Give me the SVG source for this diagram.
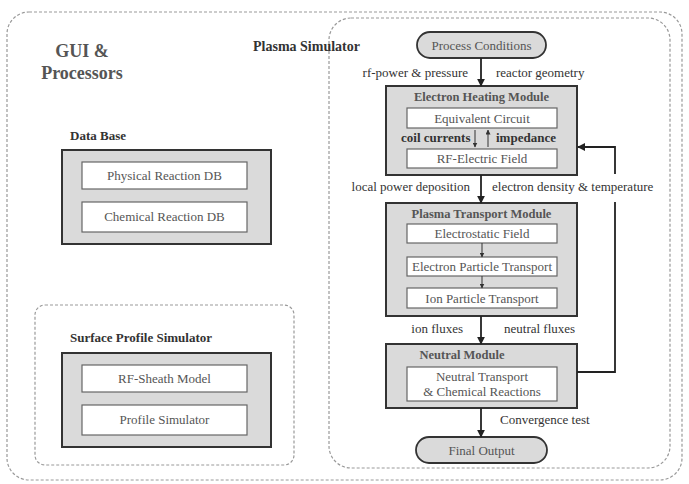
<svg xmlns="http://www.w3.org/2000/svg" width="689" height="484" viewBox="0 0 689 484">
<defs>
<style>
.dash{fill:none;stroke:#999;stroke-width:1.2;stroke-dasharray:3 2}
.outer{fill:#dadada;stroke:#333;stroke-width:2}
.inner{fill:#fff;stroke:#666;stroke-width:1.2}
.pill{fill:#dadada;stroke:#333;stroke-width:1.8}
text{font-family:"Liberation Serif","Times New Roman",Times,serif}
.t{fill:#555;font-size:13px;text-anchor:middle}
.lbl{fill:#333;font-size:13px}
.h{fill:#333;font-weight:bold}
.mh{fill:#555;font-weight:bold;font-size:12.5px;text-anchor:middle}
.c{fill:none;stroke:#222;stroke-width:1.8}
.cs{fill:none;stroke:#333;stroke-width:1}
</style>
<marker id="ah" viewBox="0 0 10 10" refX="9" refY="5" markerWidth="4.5" markerHeight="4.5" orient="auto" markerUnits="strokeWidth"><path d="M0,0 L10,5 L0,10 z" fill="#222"/></marker>
<marker id="as" viewBox="0 0 10 10" refX="9" refY="5" markerWidth="5" markerHeight="5" orient="auto" markerUnits="strokeWidth"><path d="M0,0 L10,5 L0,10 z" fill="#333"/></marker>
</defs>
<rect width="689" height="484" fill="#fff"/>

<g id="gui">
<rect class="dash" x="7" y="12" width="675" height="468" rx="22"/>
<text class="h" x="82" y="57" font-size="18" text-anchor="middle" style="fill:#555">GUI &amp;</text>
<text class="h" x="82" y="79" font-size="18" text-anchor="middle" style="fill:#555">Processors</text>
</g>

<g id="database">
<text class="h" x="70" y="140" font-size="13">Data Base</text>
<rect class="outer" x="62" y="150" width="209" height="94"/>
</g>
<g id="physical-db"><rect class="inner" x="82" y="162" width="165" height="27"/><text class="t" x="164.5" y="180">Physical Reaction DB</text></g>
<g id="chemical-db"><rect class="inner" x="82" y="202" width="165" height="30"/><text class="t" x="164.5" y="221">Chemical Reaction DB</text></g>

<g id="surface">
<rect class="dash" x="35" y="305" width="259" height="160" rx="10"/>
<text class="h" x="70" y="342" font-size="13">Surface Profile Simulator</text>
<rect class="outer" x="62" y="353" width="209" height="94"/>
</g>
<g id="rf-sheath"><rect class="inner" x="82" y="365" width="165" height="27"/><text class="t" x="164.5" y="383">RF-Sheath Model</text></g>
<g id="profile-sim"><rect class="inner" x="82" y="405" width="165" height="30"/><text class="t" x="164.5" y="424">Profile Simulator</text></g>

<g id="plasma">
<rect class="dash" x="329" y="18" width="341" height="450" rx="22"/>
<text class="h" x="253" y="51" font-size="14">Plasma Simulator</text>
</g>

<g id="process"><rect class="pill" x="417" y="32" width="129" height="26" rx="13"/><text class="t" x="481.5" y="49.5">Process Conditions</text></g>

<g id="ehm">
<rect class="outer" x="386" y="86" width="191" height="89"/>
<text class="mh" x="481.5" y="101">Electron Heating Module</text>
</g>
<g id="equiv"><rect class="inner" x="407" y="108" width="150" height="20"/><text class="t" x="482" y="122.5">Equivalent Circuit</text></g>
<g id="rfef"><rect class="inner" x="407" y="149" width="150" height="19"/><text class="t" x="482" y="163">RF-Electric Field</text></g>

<g id="ptm">
<rect class="outer" x="386" y="203" width="191" height="113"/>
<text class="mh" x="481.5" y="218">Plasma Transport Module</text>
</g>
<g id="esf"><rect class="inner" x="407" y="224" width="150" height="19"/><text class="t" x="482" y="238">Electrostatic Field</text></g>
<g id="ept"><rect class="inner" x="407" y="257" width="150" height="19"/><text class="t" x="482" y="271">Electron Particle Transport</text></g>
<g id="ipt"><rect class="inner" x="407" y="288" width="150" height="20"/><text class="t" x="482" y="302.5">Ion Particle Transport</text></g>

<g id="nm">
<rect class="outer" x="386" y="344" width="191" height="64"/>
<text class="mh" x="462" y="359">Neutral Module</text>
</g>
<g id="ntcr"><rect class="inner" x="407" y="367" width="150" height="34"/><text class="t" x="482" y="381">Neutral  Transport</text><text class="t" x="482" y="396">&amp; Chemical Reactions</text></g>

<g id="final"><rect class="pill" x="416" y="437" width="131" height="26" rx="13"/><text class="t" x="481.5" y="454.5">Final Output</text></g>

<g id="connectors">
<line class="c" x1="481" y1="58" x2="481" y2="86" marker-end="url(#ah)"/>
<line class="cs" x1="475" y1="130" x2="475" y2="147" marker-end="url(#as)"/>
<line class="cs" x1="488" y1="147" x2="488" y2="130" marker-end="url(#as)"/>
<line class="c" x1="481" y1="175" x2="481" y2="203" marker-end="url(#ah)"/>
<line class="cs" x1="482" y1="243" x2="482" y2="257" marker-end="url(#as)"/>
<line class="cs" x1="482" y1="276" x2="482" y2="288" marker-end="url(#as)"/>
<line class="c" x1="481" y1="316" x2="481" y2="344" marker-end="url(#ah)"/>
<line class="c" x1="481" y1="408" x2="481" y2="437" marker-end="url(#ah)"/>
<path class="c" d="M577,372 H615 V202 M615,174 V147 H578" marker-end="url(#ah)"/>
<text class="lbl" x="468" y="77" text-anchor="end">rf-power &amp; pressure</text>
<text class="lbl" x="496" y="77">reactor geometry</text>
<text class="lbl" x="401" y="142" font-weight="bold" font-size="12.3">coil currents</text>
<text class="lbl" x="496" y="142" font-weight="bold" font-size="12.5">impedance</text>
<text class="lbl" x="470" y="191" text-anchor="end">local power deposition</text>
<text class="lbl" x="492" y="191">electron density &amp; temperature</text>
<text class="lbl" x="463" y="333" text-anchor="end">ion fluxes</text>
<text class="lbl" x="504" y="333">neutral fluxes</text>
<text class="lbl" x="500" y="424">Convergence test</text>
</g>
</svg>
